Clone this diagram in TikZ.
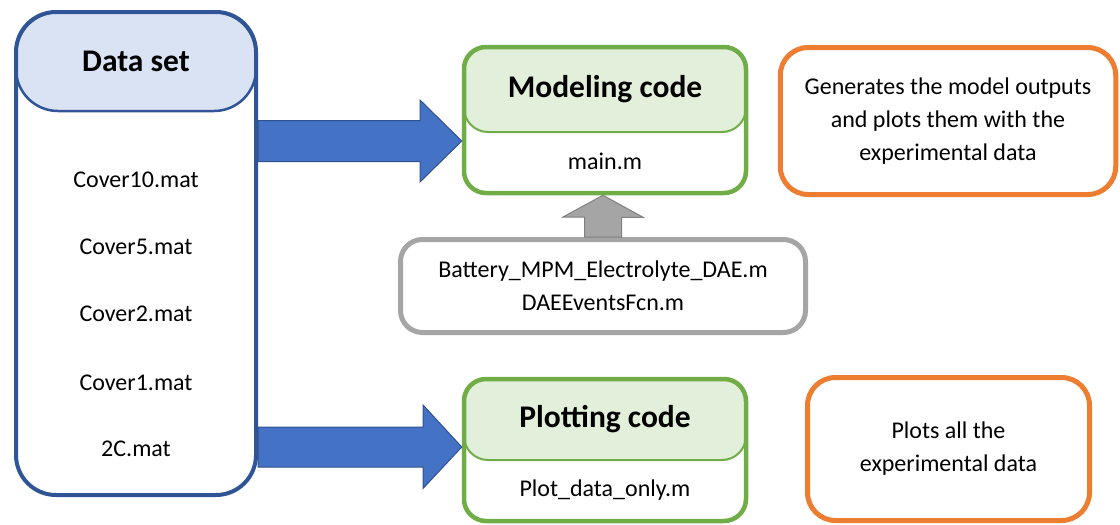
\documentclass[tikz,border=0pt]{standalone}
\usepackage{fontspec}
\setmainfont{Carlito}
\usetikzlibrary{calc}

\definecolor{setblue}{HTML}{2F5597}
\definecolor{setfill}{HTML}{DAE3F3}
\definecolor{arrowblue}{HTML}{4472C4}
\definecolor{arrowedge}{HTML}{2F528F}
\definecolor{codegreen}{HTML}{70AD47}
\definecolor{codefill}{HTML}{E2EFDA}
\definecolor{helpgray}{HTML}{A5A5A5}
\definecolor{notorange}{HTML}{ED7D31}

\begin{document}
\begin{tikzpicture}[x=1pt, y=-1pt, align=center, font=\fontsize{24}{33}\selectfont,
  title/.style={font=\fontsize{31.5}{36}\selectfont\bfseries},
  greenbox/.style={draw=codegreen, line width=4.5pt, rounded corners=22pt, minimum width=282pt},
  greenhead/.style={draw=codegreen, fill=codefill, line width=2pt, rounded corners=24pt, minimum width=282pt},
  notebox/.style={draw=notorange, line width=5pt, rounded corners=28pt},
  bluearrow/.style={fill=arrowblue, draw=arrowedge, line width=1pt},
  grayarrow/.style={fill=helpgray, draw=gray, line width=1pt}]

\useasboundingbox (0,0) rectangle (1120,525);

% Data set
\node[draw=setblue, fill=setfill, line width=2.5pt, rounded corners=42pt, minimum width=240pt, minimum height=99pt, title] (sethead) at (136,61.5) {Data set};
\node[draw=setblue, line width=4pt, rounded corners=40pt, minimum width=240pt, minimum height=483pt] (dataset) at (136,253.5) {};
\node (cover10) at (136,180) {Cover10.mat};
\node (cover5) at (136,247) {Cover5.mat};
\node (cover2) at (136,314) {Cover2.mat};
\node (cover1) at (136,383) {Cover1.mat};
\node (twoC) at (136,449) {2C.mat};

% Modeling code
\node[greenhead, minimum height=85pt, title] (modhead) at (605,89.5) {Modeling code};
\node[greenbox, minimum height=146pt] (modeling) at (605,120) {};
\node (mainm) at (605,161) {main.m};

% Plotting code
\node[greenhead, minimum height=81pt, title] (plothead) at (605,419.5) {Plotting code};
\node[greenbox, minimum height=142pt] (plotting) at (605,450) {};
\node (plotm) at (605,490) {Plot\_data\_only.m};

% Helper functions
\node[draw=helpgray, line width=5pt, rounded corners=22pt, minimum width=405pt, minimum height=93pt] (helpers) at (603,286) {Battery\_MPM\_Electrolyte\_DAE.m\\DAEEventsFcn.m};

% Notes
\node[notebox, minimum width=335.5pt, minimum height=147pt] (modnote) at (948,121) {Generates the model outputs\\and plots them with the\\experimental data};
\node[notebox, minimum width=282pt, minimum height=143pt] (plotnote) at (948.5,449) {Plots all the\\experimental data};

% Arrows
\coordinate (arr1) at (dataset.east |- 0,141);
\coordinate (arr2) at (dataset.east |- 0,447);
\draw[bluearrow] ($(arr1)+(0,-20.5)$) -- ++(162,0) -- ++(0,-20.5) -- (modeling.west |- arr1) -- ++(-41.75,41) -- ++(0,-20.5) -- ($(arr1)+(0,20.5)$) -- cycle;
\draw[bluearrow] ($(arr2)+(0,-20)$) -- ++(165,0) -- ++(0,-22) -- (plotting.west |- arr2) -- ++(-38.75,41.5) -- ++(0,-21.5) -- ($(arr2)+(0,20)$) -- cycle;
\draw[grayarrow] ($(helpers.north)+(-18.5,0)$) -- ++(0,-20) -- ++(-21.5,0) -- (helpers.north |- modeling.south) -- ++(40,22) -- ++(-21.5,0) -- ++(0,20) -- cycle;

\end{tikzpicture}
\end{document}
